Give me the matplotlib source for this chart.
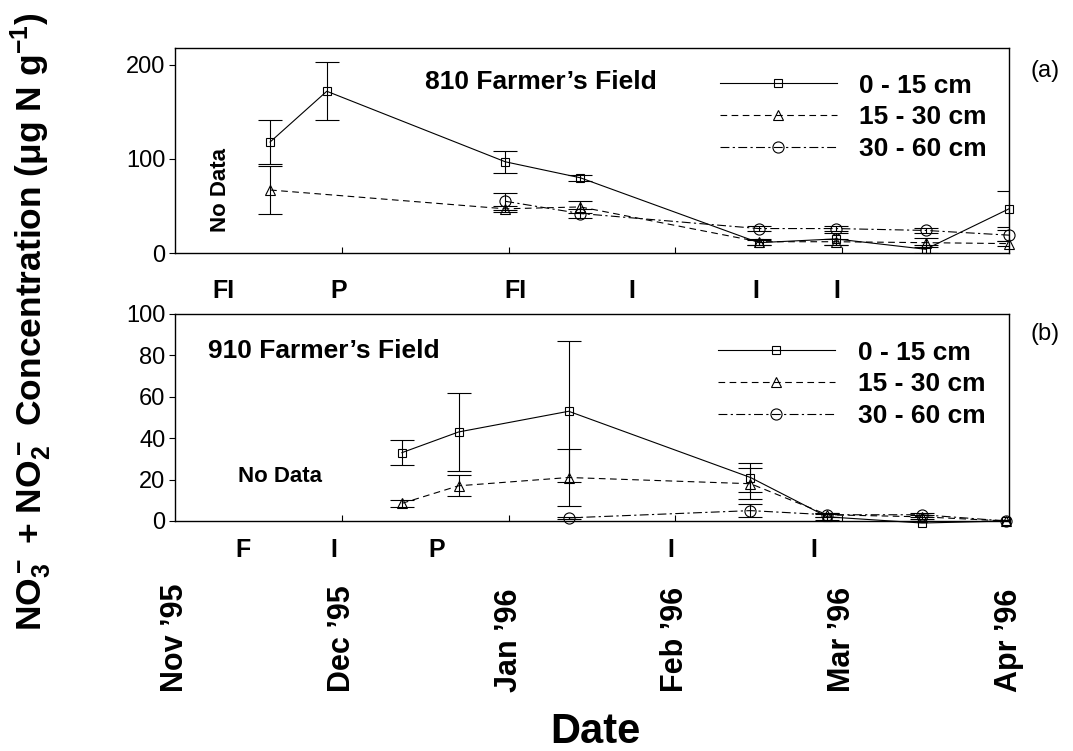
import numpy as np
import matplotlib
matplotlib.use('Agg')
import matplotlib.pyplot as plt
from matplotlib.transforms import blended_transform_factory as blend

plt.rcParams['font.family'] = ['Liberation Sans', 'DejaVu Sans']
plt.rcParams['mathtext.fontset'] = 'custom'
plt.rcParams['mathtext.rm'] = 'Liberation Sans:bold'
plt.rcParams['mathtext.it'] = 'Liberation Sans:bold'
plt.rcParams['mathtext.bf'] = 'Liberation Sans:bold'
plt.rcParams['mathtext.default'] = 'bf'

# x = months since 1 Nov 1995
months = ["Nov \u201995", "Dec \u201995", "Jan \u201996", "Feb \u201996", "Mar \u201996", "Apr \u201996"]
depths = ["0 - 15 cm", "15 - 30 cm", "30 - 60 cm"]

# 810 Farmer's Field
a_x0 = [0.57, 0.91, 1.98, 2.43, 3.50, 3.96, 4.50, 5.00]
a_y0 = [118, 172, 97, 80, 11, 15, 4, 47]
a_e0 = [23, 31, 12, 3, 3, 6, 4, 19]
a_x1 = [0.57, 1.98, 2.43, 3.50, 3.96, 4.50, 5.00]
a_y1 = [67, 47, 49, 12, 12, 11, 10]
a_e1 = [25, 3, 6, 3, 3, 5, 3]
a_x2 = [1.98, 2.43, 3.50, 3.96, 4.50, 5.00]
a_y2 = [55, 42, 26, 26, 24, 19]
a_e2 = [9, 5, 3, 3, 3, 6]

# 910 Farmer's Field
b_x0 = [1.36, 1.70, 2.36, 3.45, 3.91, 4.48, 4.98]
b_y0 = [33, 43, 53, 21, 2, -1, 0]
b_e0 = [6, 19, 34, 7, 1.5, 1, 0.5]
b_x1 = [1.36, 1.70, 2.36, 3.45, 3.91, 4.48, 4.98]
b_y1 = [8.5, 17, 21, 18, 3, 2, 0]
b_e1 = [1.6, 5, 14, 7.5, 1, 1, 0.5]
b_x2 = [2.36, 3.45, 3.91, 4.48, 4.98]
b_y2 = [1.5, 5, 3, 3, 0]
b_e2 = [0.5, 3, 1, 1, 0.5]

# management events
a_ev = ["FI", "P", "FI", "I", "I", "I"]
a_ev_x = [0.29, 0.98, 2.04, 2.74, 3.48, 3.97]
b_ev = ["F", "I", "P", "I", "I"]
b_ev_x = [0.41, 0.95, 1.57, 2.97, 3.83]

styles = [dict(ls='-', marker='s', ms=6),
          dict(ls=(0, (6, 4)), marker='^', ms=6.5),
          dict(ls=(0, (8, 3, 2, 3)), marker='o', ms=8)]

fig = plt.figure(figsize=(10.73, 7.51), dpi=100)
ax1 = fig.add_axes([0.1631, 0.6631, 0.7773, 0.2730])
ax2 = fig.add_axes([0.1631, 0.3063, 0.7773, 0.2756])


def draw(ax, series):
    for (x, y, e), st, lab in zip(series, styles, depths):
        ax.errorbar(x, y, yerr=e, fmt='none', ecolor='black', elinewidth=0.8,
                    capsize=8.5, capthick=0.8, zorder=2)
        ax.plot(x, y, color='black', lw=0.8, mfc='none', mec='black', mew=0.8,
                label=lab, clip_on=False, zorder=3, **st)
    ax.set_xlim(0, 5)
    ax.set_xticks([1, 2, 3, 4])
    ax.tick_params(axis='x', direction='in', length=4, labelbottom=False)
    ax.tick_params(axis='y', direction='out', length=4, labelsize=17, pad=3)
    for s in ax.spines.values():
        s.set_linewidth(1.0)


draw(ax1, [(a_x0, a_y0, a_e0), (a_x1, a_y1, a_e1), (a_x2, a_y2, a_e2)])
draw(ax2, [(b_x0, b_y0, b_e0), (b_x1, b_y1, b_e1), (b_x2, b_y2, b_e2)])
ax1.set_ylim(0, 218)
ax1.set_yticks([0, 100, 200])
ax2.set_ylim(0, 100)
ax2.set_yticks([0, 20, 40, 60, 80, 100])

leg_kw = dict(loc='upper left', frameon=False, handlelength=4.43, handletextpad=0.87,
              labelspacing=0.29, borderpad=0, borderaxespad=0,
              prop={'weight': 'bold', 'size': 19})
ax1.legend(bbox_to_anchor=(0.653, 0.875), **leg_kw)
ax2.legend(bbox_to_anchor=(0.651, 0.871), **leg_kw)

ax1.text(1.5, 182, "810 Farmer\u2019s Field", fontsize=19, fontweight='bold', va='center')
ax2.text(0.2, 82, "910 Farmer\u2019s Field", fontsize=19, fontweight='bold', va='center')
ax1.text(0.27, 67, "No Data", fontsize=16, fontweight='bold', rotation=90,
         ha='center', va='center')
ax2.text(0.63, 21.7, "No Data", fontsize=16, fontweight='bold', ha='center', va='center')

for lab, x in zip(a_ev, a_ev_x):
    ax1.text(x, -0.185, lab, transform=blend(ax1.transData, ax1.transAxes),
             fontsize=18, fontweight='bold', ha='center', va='center', clip_on=False)
for lab, x in zip(b_ev, b_ev_x):
    ax2.text(x, -0.14, lab, transform=blend(ax2.transData, ax2.transAxes),
             fontsize=18, fontweight='bold', ha='center', va='center', clip_on=False)

tr = blend(ax2.transData, fig.transFigure)
for i, m in enumerate(months):
    fig.text(i, 0.0786, m, transform=tr, rotation=90, ha='center', va='bottom',
             fontsize=22, fontweight='bold')

fig.text(0.5545, 0.01, "Date", ha='center', va='baseline', fontsize=30, fontweight='bold')
fig.text(0.974, 0.905, "(a)", ha='center', va='center', fontsize=17)
fig.text(0.974, 0.555, "(b)", ha='center', va='center', fontsize=17)
fig.text(0.029, 0.571, "NO$_3^-$ + NO$_2^-$ Concentration (\u03bcg N g$^{-1}$)",
         rotation=90, ha='center', va='center', fontsize=25.5, fontweight='bold')

fig.savefig('out.png', dpi=100, facecolor='white')
